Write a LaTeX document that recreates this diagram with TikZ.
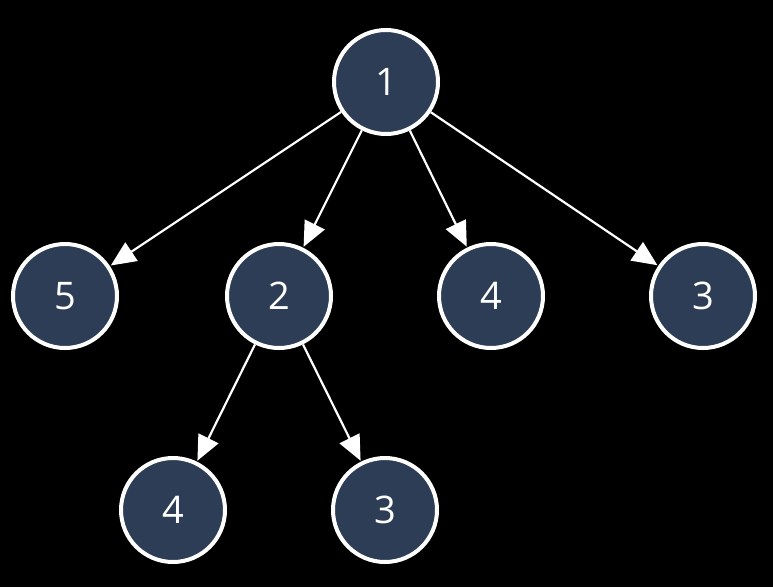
\documentclass[tikz,border=0pt]{standalone}
\usepackage{fontspec}
\setmainfont{Open Sans}
\usetikzlibrary{arrows.meta}
\definecolor{nodeslate}{RGB}{45,61,85}
\tikzset{
  vertex/.style={circle,draw=white,line width=4pt,fill=nodeslate,
                 minimum size=104pt,inner sep=0pt,text=white,
                 font=\fontsize{38}{44}\selectfont},
  edge/.style={draw=white,line width=2.2pt,
               -{Triangle[length=25pt,width=22pt]},shorten >=1pt},
}
\begin{document}
\begin{tikzpicture}[x=1pt,y=-1pt]
  \fill[black] (0,0) rectangle (773,587);
  \useasboundingbox (0,0) rectangle (773,587);

  \node[vertex] (root) at (386,82) {1};
  \node[vertex] (a) at (65,296) {5};
  \node[vertex] (b) at (279,296) {2};
  \node[vertex] (c) at (491,296) {4};
  \node[vertex] (d) at (703,296) {3};
  \node[vertex] (ba) at (173,510) {4};
  \node[vertex] (bb) at (385,510) {3};

  \draw[edge] (root) -- (a);
  \draw[edge] (root) -- (b);
  \draw[edge] (root) -- (c);
  \draw[edge] (root) -- (d);
  \draw[edge] (b) -- (ba);
  \draw[edge] (b) -- (bb);
\end{tikzpicture}
\end{document}
